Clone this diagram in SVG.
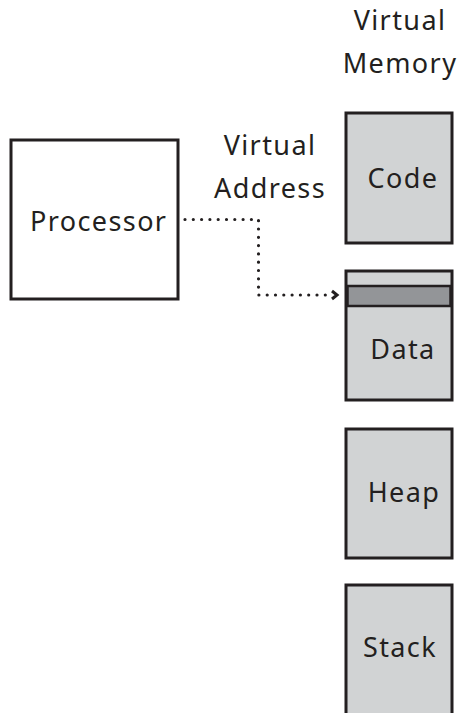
<svg xmlns="http://www.w3.org/2000/svg" width="473" height="713" viewBox="0 0 473 713">
<style>
text{font-family:"Noto Sans","Open Sans",sans-serif;font-size:27px;letter-spacing:1.4px;fill:#231f20}
.seg{fill:#d1d3d4;stroke:#231f20;stroke-width:3}
.proc{fill:#fff;stroke:#231f20;stroke-width:3}
.dot{fill:none;stroke:#231f20;stroke-width:3.2;stroke-linecap:round;stroke-dasharray:0 8.3}
</style>
<rect width="473" height="713" fill="#fff"/>
<g id="title"><text x="400" y="30" text-anchor="middle">Virtual</text><text x="400" y="73" text-anchor="middle">Memory</text></g>
<g id="processor"><rect class="proc" x="11" y="140" width="167" height="159"/><text x="30" y="231">Processor</text></g>
<g id="code"><rect class="seg" x="346" y="113" width="106" height="130"/><text x="403" y="188" text-anchor="middle">Code</text></g>
<g id="data"><rect class="seg" x="346" y="271" width="106" height="129"/><rect x="347.5" y="286" width="103" height="20" fill="#939598" stroke="#231f20" stroke-width="2.5"/><text x="403" y="359" text-anchor="middle">Data</text></g>
<g id="heap"><rect class="seg" x="346" y="429" width="106" height="129"/><text x="404" y="502" text-anchor="middle">Heap</text></g>
<g id="stack"><path class="seg" d="M346,716 V585 H452 V716"/><text x="400" y="657" text-anchor="middle">Stack</text></g>
<g id="label"><text x="270" y="155" text-anchor="middle">Virtual</text><text x="270" y="198" text-anchor="middle">Address</text></g>
<g id="connectors">
<path class="dot" d="M185,219.5 H258.5 V295 H330"/>
<path d="M332,291 L337,295 L332,299" fill="none" stroke="#231f20" stroke-width="3"/>
</g>
</svg>
